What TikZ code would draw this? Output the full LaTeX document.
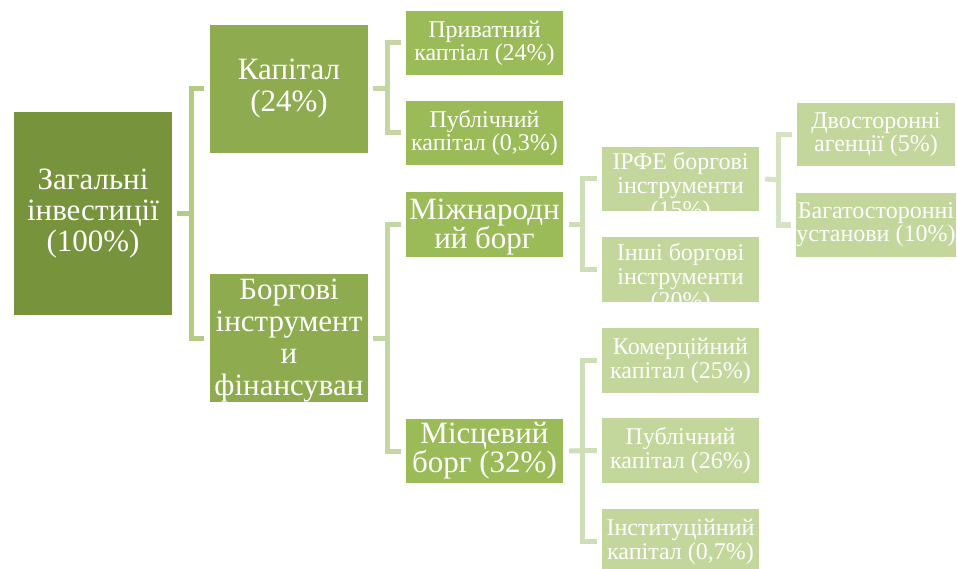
\documentclass[tikz,border=0pt]{standalone}
\usepackage{fontspec}
\setmainfont{Liberation Serif}

\definecolor{rootc}{HTML}{77933C}
\definecolor{lvlA}{HTML}{8EAB4F}
\definecolor{lvlB}{HTML}{9BBB59}
\definecolor{lvlC}{HTML}{C3D69B}
\definecolor{lnA}{HTML}{B3CC85}
\definecolor{lnB}{HTML}{C4D7A2}
\definecolor{lnC}{HTML}{CEDEB7}
\definecolor{lnD}{HTML}{D6E3C3}

\tikzset{
  box/.style={rectangle, inner sep=0pt, minimum width=158pt, text=white, align=center},
  rootbox/.style={box, fill=rootc, minimum height=203pt, font=\fontsize{31}{31}\selectfont},
  boxA/.style={box, fill=lvlA, minimum height=128pt, font=\fontsize{31}{32}\selectfont},
  boxB/.style={box, fill=lvlB, minimum width=157pt, minimum height=64pt, font=\fontsize{24}{23}\selectfont},
  boxBbig/.style={box, fill=lvlB, minimum width=157pt, minimum height=64pt, font=\fontsize{31}{29}\selectfont},
  boxC/.style={box, fill=lvlC, minimum width=157pt, minimum height=64pt, font=\fontsize{24}{24}\selectfont},
  boxD/.style={box, fill=lvlC, minimum height=63pt, font=\fontsize{24}{23}\selectfont},
  inner text/.style={inner sep=0pt, text=white, align=center},
  overflowtext/.style={inner text, anchor=north, font=\fontsize{24}{24}\selectfont},
  link/.style={line width=5pt, line cap=butt, line join=miter},
}

\begin{document}
\begin{tikzpicture}[x=1pt, y=-1pt]
\clip (0,0) rectangle (957,569);

% boxes
\node[rootbox] (root) at (93,213.5) {Загальні\\інвестиції\\(100\%)};
\node[boxA] (kap) at (289,89) {Капітал\\(24\%)};
\node[boxA] (borg) at (289,338) {};
\node[inner text, font=\fontsize{31}{32}\selectfont] (borgtext) at ([yshift=-3pt]borg.center) {Боргові\\інструмент\\и\\фінансуван};

\node[boxB] (pryv) at (484.5,43) {Приватний\\каптіал (24\%)};
\node[boxB] (pub) at (484.5,133) {Публічний\\капітал (0,3\%)};
\node[boxBbig] (mizh) at (484.5,224.5) {};
\node[inner text, font=\fontsize{31}{28}\selectfont] (mizhtext) at ([yshift=-2.5pt]mizh.center) {Міжнародн\\ий борг};
\node[boxBbig] (misc) at (484.5,451) {Місцевий\\борг (32\%)};

\node[boxC] (irfe) at (680.5,179) {};
\begin{scope}
  \clip (irfe.north west) rectangle (irfe.south east);
  \node[overflowtext] (irfetext) at ([yshift=-5pt]irfe.north) {ІРФЕ боргові\\інструменти\\(15\%)};
\end{scope}
\node[boxC, minimum height=65pt] (inshi) at (680.5,269.5) {};
\begin{scope}
  \clip (inshi.north west) rectangle (inshi.south east);
  \node[overflowtext] (inshitext) at ([yshift=-6pt]inshi.north) {Інші боргові\\інструменти\\(20\%)};
\end{scope}

\node[boxC, minimum height=65pt] (kom) at (680.5,360.5) {Комерційний\\капітал (25\%)};
\node[boxC, minimum height=65pt] (pubb) at (680.5,450.5) {Публічний\\капітал (26\%)};
\node[boxC, minimum height=65pt] (inst) at (680.5,541.5) {Інституційний\\капітал (0,7\%)};

\node[boxD] (dvo) at (876,134.5) {Двосторонні\\агенції (5\%)};
\node[boxD, minimum height=64pt] (baga) at (876,225) {Багатосторонні\\установи (10\%)};

% bracket joints
\coordinate (j0) at (191,213.5);
\coordinate (j1) at (387,89);
\coordinate (j2) at (387.5,338);
\coordinate (j3) at (582.5,224.5);
\coordinate (j4) at (582.5,451);
\coordinate (j5) at (778.5,180);

% connectors
\draw[link, lnA] ([xshift=5pt]root.east) -- (j0);
\draw[link, lnA] ([xshift=-6pt]kap.west) -| (j0) |- ([xshift=-6pt]borg.west);

\draw[link, lnB] ([xshift=5pt]kap.east) -- (j1);
\draw[link, lnB] ([xshift=-5pt]pryv.west) -| (j1) |- ([xshift=-5pt]pub.west);
\draw[link, lnB] ([xshift=5pt]borg.east) -- (j2);
\draw[link, lnB] ([xshift=-5pt]mizh.west) -| (j2) |- ([xshift=-5pt]misc.west);

\draw[link, lnC] ([xshift=6pt]mizh.east) -- (j3);
\draw[link, lnC] ([xshift=-5pt]irfe.west) -| (j3) |- ([xshift=-5pt]inshi.west);
\draw[link, lnC] ([xshift=6pt]misc.east) -- ([xshift=-5pt]pubb.west);
\draw[link, lnC] ([xshift=-5pt]kom.west) -| (j4) |- ([xshift=-5pt]inst.west);

\draw[link, lnD] ([xshift=6pt]irfe.east) -- (j5);
\draw[link, lnD] ([xshift=-5pt]dvo.west) -| (j5) |- ([xshift=-5pt]baga.west);
\end{tikzpicture}
\end{document}
